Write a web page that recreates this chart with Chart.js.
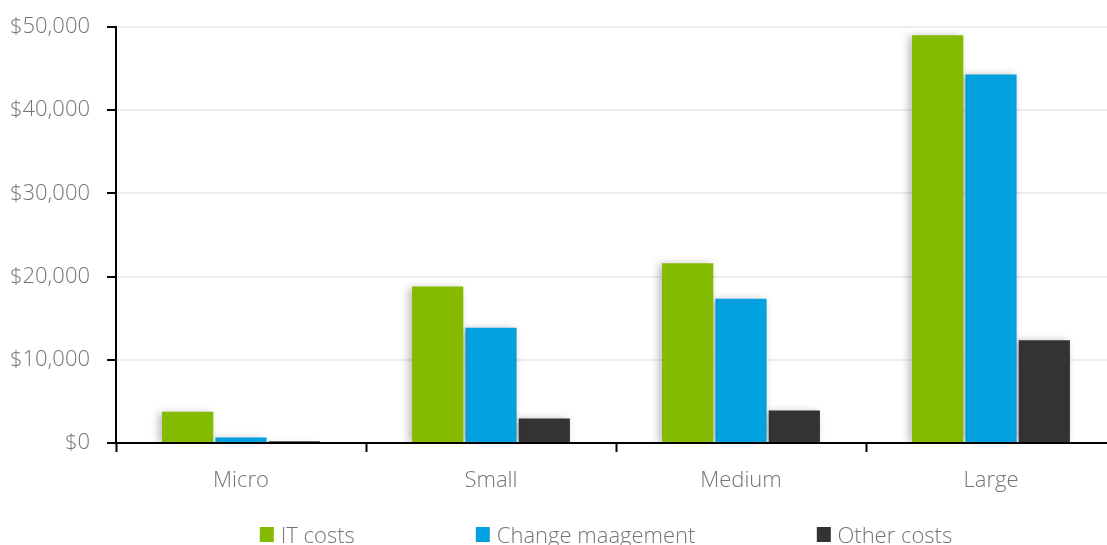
<!DOCTYPE html>
<html>
<head>
<meta charset="utf-8">
<script src="https://cdn.jsdelivr.net/npm/chart.js@4/dist/chart.umd.min.js"></script>
<style>
  html, body { margin: 0; padding: 0; background: #fff; overflow: hidden; width: 1107px; height: 545px; }
  #wrap { position: absolute; left: 0; top: 0; width: 1116px; height: 545px; }
  #legend {
    position: absolute; top: 519px; left: 606px; transform: translateX(-50%);
    display: flex; gap: 121px; white-space: nowrap;
    font-family: "Open Sans", sans-serif; font-weight: 300; font-size: 22px; color: #747474;
  }
  #legend .item { display: flex; align-items: center; }
  #legend .box { width: 14px; height: 15px; margin-right: 7px; }
</style>
</head>
<body>
<div id="wrap"><canvas id="chart" width="1116" height="545"></canvas></div>
<div id="legend"></div>
<script>
// Company size bands and average cost per band
const categories = ['Micro', 'Small', 'Medium', 'Large'];
const itCosts = [3750, 18800, 21600, 49000];
const changeManagement = [650, 13850, 17350, 44300];
const otherCosts = [200, 2950, 3900, 12350];
const seriesNames = ['IT costs', 'Change maagement', 'Other costs'];
const seriesColors = ['#84bb00', '#00a1de', '#333333'];

const textColor = '#747474';
const baseFont = { family: '"Open Sans", sans-serif', weight: '300', size: 22 };

// soft drop shadow behind the bars
const barShadow = {
  id: 'barShadow',
  beforeDatasetsDraw(chart) {
    const ctx = chart.ctx;
    ctx.save();
    ctx.shadowColor = 'rgba(0,0,0,0.28)';
    ctx.shadowBlur = 8;
    ctx.shadowOffsetX = -3;
    ctx.shadowOffsetY = 1;
  },
  afterDatasetsDraw(chart) {
    chart.ctx.restore();
  }
};

const values = [itCosts, changeManagement, otherCosts];
const chart = new Chart(document.getElementById('chart'), {
  type: 'bar',
  data: {
    labels: categories,
    datasets: values.map((v, i) => ({
      label: seriesNames[i],
      data: v,
      backgroundColor: seriesColors[i],
      borderWidth: 0,
      categoryPercentage: 0.64,
      barPercentage: 0.96
    }))
  },
  options: {
    responsive: false,
    animation: false,
    devicePixelRatio: 1,
    layout: { padding: { top: 27, right: 0, bottom: 0, left: 0 } },
    plugins: {
      legend: { display: false },
      tooltip: { enabled: false }
    },
    scales: {
      x: {
        offset: true,
        grid: {
          offset: true,
          drawOnChartArea: false,
          drawTicks: true,
          tickLength: 9,
          tickColor: '#000',
          tickWidth: 2
        },
        border: { color: '#000', width: 2 },
        ticks: { color: textColor, font: baseFont, padding: 16 },
        afterFit(scale) { scale.height = 102; }
      },
      y: {
        min: 0,
        max: 50000,
        ticks: {
          stepSize: 10000,
          color: textColor,
          font: Object.assign({}, baseFont, { lineHeight: 0.6 }),
          padding: 17,
          callback: v => '$' + v.toLocaleString('en-US')
        },
        grid: {
          color: '#eeeeee',
          lineWidth: 2,
          drawTicks: true,
          tickLength: 9,
          tickColor: '#000',
          tickWidth: 2
        },
        border: { color: '#000', width: 2 },
        afterFit(scale) { scale.width = 116; }
      }
    }
  },
  plugins: [barShadow]
});

// legend built from the chart's own legend items
const legendEl = document.getElementById('legend');
Chart.defaults.plugins.legend.labels.generateLabels(chart).forEach(item => {
  const el = document.createElement('div');
  el.className = 'item';
  const box = document.createElement('span');
  box.className = 'box';
  box.style.background = item.fillStyle;
  const txt = document.createElement('span');
  txt.textContent = item.text;
  el.appendChild(box);
  el.appendChild(txt);
  legendEl.appendChild(el);
});
</script>
</body>
</html>
